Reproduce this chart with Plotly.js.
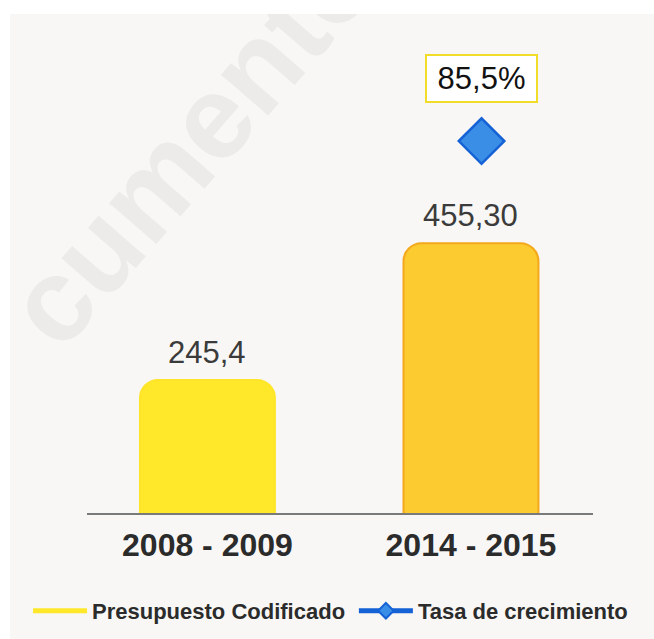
<!DOCTYPE html>
<html><head><meta charset="utf-8">
<script src="https://cdn.plot.ly/plotly-3.0.1.min.js"></script>
<style>
html,body{margin:0;padding:0;background:#ffffff;}
#chart{position:absolute;left:10px;top:14px;width:644px;height:625px;}
</style></head><body><div id="chart"></div>
<script>
const categories = ['2008 - 2009', '2014 - 2015'];
const presupuesto = [245.4, 455.30];
const presupuestoLabels = ['245,4', '455,30'];
const tasa = [null, 85.5];
const tasaLabels = ['', '85,5%'];
const seriesNames = ['Presupuesto Codificado', 'Tasa de crecimiento'];
const watermarkText = 'cumento';

const regular = '"Liberation Sans", Arial, sans-serif';

const traces = [
  {
    type: 'bar', x: categories, y: presupuesto,
    width: 0.512,
    marker: {color: ['#FFE82A', '#FCCB2F'], line: {color: ['#FFE52A', '#F4A81D'], width: 2}, cornerradius: 18},
    showlegend: false, hoverinfo: 'none'
  },
  {
    type: 'scatter', mode: 'lines', x: [null], y: [null], name: seriesNames[0],
    line: {color: '#FFE82A', width: 12}, hoverinfo: 'none', legend: 'legend'
  },
  {
    type: 'scatter', mode: 'lines+markers', x: categories, y: tasa, xaxis: 'x2', yaxis: 'y2',
    name: seriesNames[1], legend: 'legend2',
    line: {color: '#1561D6', width: 3},
    marker: {symbol: 'diamond', size: 35, color: '#3A8EE6', line: {color: '#1561D6', width: 2.5}},
    hoverinfo: 'none'
  }
];

const annotations = [
  {
    xref: 'paper', yref: 'paper', x: 0.205, y: 0.775, xanchor: 'center', yanchor: 'middle',
    text: watermarkText, showarrow: false, textangle: -49,
    font: {family: regular, size: 118, weight: 'bold', color: '#EDEBE9'}
  }
];
categories.forEach((c, i) => {
  annotations.push({
    x: c, y: presupuesto[i], xref: 'x', yref: 'y', text: presupuestoLabels[i],
    showarrow: false, yanchor: 'bottom', yshift: 8,
    font: {family: regular, size: 31, color: '#3b3b3b'}
  });
  if (tasa[i] !== null) {
    annotations.push({
      x: c, y: tasa[i], xref: 'x2', yref: 'y2', text: tasaLabels[i],
      showarrow: false, yanchor: 'middle', yshift: 63,
      width: 105, height: 41, borderpad: 2,
      bgcolor: '#FFFFFF', bordercolor: '#F2DC2A', borderwidth: 2,
      font: {family: regular, size: 31, color: '#111111'}
    });
  }
});

const legendFont = {family: regular, size: 22, weight: 'bold', color: '#2b2b2b'};
const r0 = -0.457, r1 = 1.463;
const layout = {
  width: 644, height: 625,
  margin: {l: 77, r: 61, t: 20, b: 126},
  paper_bgcolor: '#F8F7F5', plot_bgcolor: '#F8F7F5',
  showlegend: true,
  xaxis: {
    type: 'category', range: [r0, r1], showgrid: false, zeroline: false,
    showline: true, linecolor: '#7a7a7a', linewidth: 2, ticks: '',
    tickfont: {family: regular, size: 32, weight: 'bold', color: '#2b2b2b'},
    ticklabelstandoff: 3
  },
  xaxis2: {
    type: 'category', overlaying: 'x', range: [r0 - 0.04, r1 - 0.04], visible: false
  },
  yaxis: {range: [41.2, 776.7], visible: false, showgrid: false, zeroline: false},
  yaxis2: {range: [0, 110.1], overlaying: 'y', visible: false, showgrid: false, zeroline: false},
  legend: {
    orientation: 'h', xref: 'container', yref: 'container', x: 0.028, y: 0.045,
    xanchor: 'left', yanchor: 'middle', itemsizing: 'constant', itemwidth: 54,
    bgcolor: 'rgba(0,0,0,0)', font: legendFont
  },
  legend2: {
    orientation: 'h', xref: 'container', yref: 'container', x: 0.534, y: 0.045,
    xanchor: 'left', yanchor: 'middle', itemsizing: 'constant', itemwidth: 54,
    bgcolor: 'rgba(0,0,0,0)', font: legendFont
  },
  annotations: annotations
};

Plotly.newPlot('chart', traces, layout, {displayModeBar: false, staticPlot: true});
</script></body></html>
